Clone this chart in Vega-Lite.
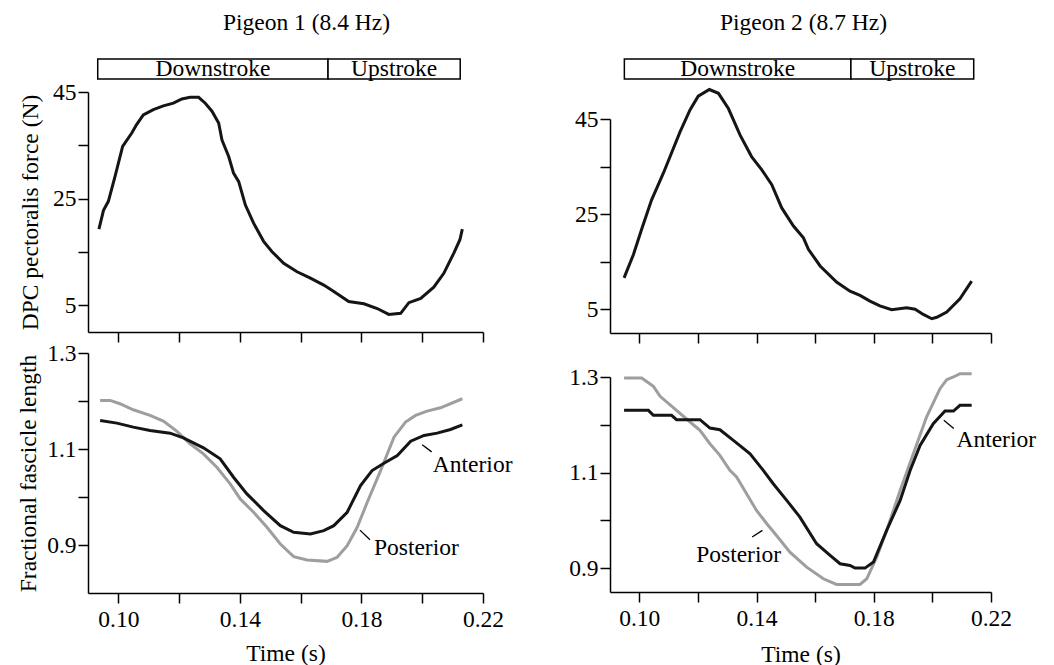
{
  "$schema": "https://vega.github.io/schema/vega-lite/v6.json",
  "padding": {"left": 16, "top": 10, "right": 5, "bottom": 5},
  "background": "white",
  "config": {
    "view": {"stroke": null},
    "font": "Liberation Serif",
    "axis": {
      "domainColor": "black", "domainWidth": 1.5, "tickColor": "black", "tickWidth": 1.5, "tickSize": 10,
      "labelColor": "black", "labelFont": "Liberation Serif", "labelFontSize": 23.5, "labelPadding": 2,
      "labelFlush": false, "labelOverlap": false, "labelBound": false,
      "titleFont": "Liberation Serif", "titleFontSize": 23.5, "titleFontWeight": "normal", "titleColor": "black",
      "grid": false
    },
    "title": {"font": "Liberation Serif", "fontSize": 23.5, "fontWeight": "normal", "color": "black", "anchor": "middle"}
  },
  "datasets": {
    "phases": [
      {"p": 1, "phase": "Downstroke", "start": 0.0932, "end": 0.169},
      {"p": 1, "phase": "Upstroke", "start": 0.169, "end": 0.2125},
      {"p": 2, "phase": "Downstroke", "start": 0.0949, "end": 0.1722},
      {"p": 2, "phase": "Upstroke", "start": 0.1722, "end": 0.2141}
    ],
    "force": [
      {"p":1,"t":0.0936,"f":19.3},{"p":1,"t":0.0951,"f":22.8},{"p":1,"t":0.0967,"f":24.5},{"p":1,"t":0.0989,"f":29.2},
      {"p":1,"t":0.1014,"f":34.8},{"p":1,"t":0.1044,"f":37.3},{"p":1,"t":0.1060,"f":38.9},{"p":1,"t":0.1082,"f":40.7},
      {"p":1,"t":0.1115,"f":41.7},{"p":1,"t":0.1148,"f":42.4},{"p":1,"t":0.1181,"f":42.9},{"p":1,"t":0.1209,"f":43.7},
      {"p":1,"t":0.1236,"f":44.0},{"p":1,"t":0.1264,"f":44.0},{"p":1,"t":0.1286,"f":42.9},{"p":1,"t":0.1308,"f":41.4},
      {"p":1,"t":0.1330,"f":39.2},{"p":1,"t":0.1341,"f":36.0},{"p":1,"t":0.1363,"f":32.9},{"p":1,"t":0.1379,"f":29.8},
      {"p":1,"t":0.1396,"f":28.2},{"p":1,"t":0.1418,"f":23.8},{"p":1,"t":0.1445,"f":20.4},{"p":1,"t":0.1478,"f":17.0},
      {"p":1,"t":0.1505,"f":15.1},{"p":1,"t":0.1544,"f":12.9},{"p":1,"t":0.1588,"f":11.3},{"p":1,"t":0.1632,"f":10.1},
      {"p":1,"t":0.1676,"f":8.8},{"p":1,"t":0.1709,"f":7.6},{"p":1,"t":0.1758,"f":5.7},{"p":1,"t":0.1808,"f":5.3},
      {"p":1,"t":0.1852,"f":4.4},{"p":1,"t":0.1890,"f":3.3},{"p":1,"t":0.1929,"f":3.5},{"p":1,"t":0.1956,"f":5.5},
      {"p":1,"t":0.1995,"f":6.3},{"p":1,"t":0.2038,"f":8.4},{"p":1,"t":0.2071,"f":11.0},{"p":1,"t":0.2104,"f":14.8},
      {"p":1,"t":0.2124,"f":17.3},{"p":1,"t":0.2132,"f":19.3},
      {"p":2,"t":0.0948,"f":11.6},{"p":2,"t":0.0980,"f":16.5},{"p":2,"t":0.1008,"f":21.8},{"p":2,"t":0.1042,"f":28.0},
      {"p":2,"t":0.1082,"f":33.6},{"p":2,"t":0.1139,"f":42.3},{"p":2,"t":0.1173,"f":46.9},{"p":2,"t":0.1201,"f":49.8},
      {"p":2,"t":0.1239,"f":51.2},{"p":2,"t":0.1270,"f":50.4},{"p":2,"t":0.1304,"f":47.2},{"p":2,"t":0.1344,"f":41.6},
      {"p":2,"t":0.1383,"f":37.1},{"p":2,"t":0.1418,"f":34.3},{"p":2,"t":0.1452,"f":31.2},{"p":2,"t":0.1486,"f":26.3},
      {"p":2,"t":0.1526,"f":22.5},{"p":2,"t":0.1560,"f":20.0},{"p":2,"t":0.1577,"f":17.6},{"p":2,"t":0.1617,"f":14.1},
      {"p":2,"t":0.1673,"f":10.7},{"p":2,"t":0.1719,"f":8.8},{"p":2,"t":0.1753,"f":7.9},{"p":2,"t":0.1787,"f":6.7},
      {"p":2,"t":0.1821,"f":5.7},{"p":2,"t":0.1861,"f":4.9},{"p":2,"t":0.1912,"f":5.3},{"p":2,"t":0.1941,"f":5.0},
      {"p":2,"t":0.1969,"f":3.9},{"p":2,"t":0.1998,"f":3.0},{"p":2,"t":0.2015,"f":3.3},{"p":2,"t":0.2049,"f":4.4},
      {"p":2,"t":0.2094,"f":7.2},{"p":2,"t":0.2134,"f":10.9}
    ],
    "len": [
      {"p":1,"m":"Anterior","t":0.0940,"L":1.1595},{"p":1,"m":"Anterior","t":0.0995,"L":1.1539},{"p":1,"m":"Anterior","t":0.1049,"L":1.1456},
      {"p":1,"m":"Anterior","t":0.1104,"L":1.1386},{"p":1,"m":"Anterior","t":0.1170,"L":1.1330},{"p":1,"m":"Anterior","t":0.1214,"L":1.1233},
      {"p":1,"m":"Anterior","t":0.1280,"L":1.1024},{"p":1,"m":"Anterior","t":0.1335,"L":1.0795},{"p":1,"m":"Anterior","t":0.1379,"L":1.0412},
      {"p":1,"m":"Anterior","t":0.1423,"L":1.0064},{"p":1,"m":"Anterior","t":0.1478,"L":0.9717},{"p":1,"m":"Anterior","t":0.1533,"L":0.9403},
      {"p":1,"m":"Anterior","t":0.1577,"L":0.9264},{"p":1,"m":"Anterior","t":0.1632,"L":0.9230},{"p":1,"m":"Anterior","t":0.1676,"L":0.9299},
      {"p":1,"m":"Anterior","t":0.1709,"L":0.9403},{"p":1,"m":"Anterior","t":0.1753,"L":0.9682},{"p":1,"m":"Anterior","t":0.1797,"L":1.0238},
      {"p":1,"m":"Anterior","t":0.1835,"L":1.0551},{"p":1,"m":"Anterior","t":0.1874,"L":1.0704},{"p":1,"m":"Anterior","t":0.1918,"L":1.0864},
      {"p":1,"m":"Anterior","t":0.1962,"L":1.1163},{"p":1,"m":"Anterior","t":0.2006,"L":1.1282},{"p":1,"m":"Anterior","t":0.2049,"L":1.1330},
      {"p":1,"m":"Anterior","t":0.2093,"L":1.1407},{"p":1,"m":"Anterior","t":0.2132,"L":1.1504},
      {"p":1,"m":"Posterior","t":0.0940,"L":1.2012},{"p":1,"m":"Posterior","t":0.0973,"L":1.2012},{"p":1,"m":"Posterior","t":0.1005,"L":1.1943},
      {"p":1,"m":"Posterior","t":0.1049,"L":1.1817},{"p":1,"m":"Posterior","t":0.1104,"L":1.1699},{"p":1,"m":"Posterior","t":0.1148,"L":1.1581},
      {"p":1,"m":"Posterior","t":0.1192,"L":1.1372},{"p":1,"m":"Posterior","t":0.1236,"L":1.1108},{"p":1,"m":"Posterior","t":0.1280,"L":1.0899},
      {"p":1,"m":"Posterior","t":0.1324,"L":1.0621},{"p":1,"m":"Posterior","t":0.1368,"L":1.0273},{"p":1,"m":"Posterior","t":0.1401,"L":0.9960},
      {"p":1,"m":"Posterior","t":0.1445,"L":0.9682},{"p":1,"m":"Posterior","t":0.1489,"L":0.9369},{"p":1,"m":"Posterior","t":0.1533,"L":0.9021},
      {"p":1,"m":"Posterior","t":0.1577,"L":0.8757},{"p":1,"m":"Posterior","t":0.1621,"L":0.8687},{"p":1,"m":"Posterior","t":0.1687,"L":0.8659},
      {"p":1,"m":"Posterior","t":0.1720,"L":0.8743},{"p":1,"m":"Posterior","t":0.1753,"L":0.8986},{"p":1,"m":"Posterior","t":0.1786,"L":0.9369},
      {"p":1,"m":"Posterior","t":0.1819,"L":0.9890},{"p":1,"m":"Posterior","t":0.1863,"L":1.0551},{"p":1,"m":"Posterior","t":0.1907,"L":1.1247},
      {"p":1,"m":"Posterior","t":0.1945,"L":1.1560},{"p":1,"m":"Posterior","t":0.1978,"L":1.1699},{"p":1,"m":"Posterior","t":0.2016,"L":1.1790},
      {"p":1,"m":"Posterior","t":0.2060,"L":1.1859},{"p":1,"m":"Posterior","t":0.2132,"L":1.2047},
      {"p":2,"m":"Anterior","t":0.0948,"L":1.2302},{"p":2,"m":"Anterior","t":0.1031,"L":1.2302},{"p":2,"m":"Anterior","t":0.1048,"L":1.2197},
      {"p":2,"m":"Anterior","t":0.1110,"L":1.2197},{"p":2,"m":"Anterior","t":0.1127,"L":1.2106},{"p":2,"m":"Anterior","t":0.1207,"L":1.2106},
      {"p":2,"m":"Anterior","t":0.1241,"L":1.1932},{"p":2,"m":"Anterior","t":0.1275,"L":1.1897},{"p":2,"m":"Anterior","t":0.1321,"L":1.1674},
      {"p":2,"m":"Anterior","t":0.1378,"L":1.1394},{"p":2,"m":"Anterior","t":0.1423,"L":1.1045},{"p":2,"m":"Anterior","t":0.1457,"L":1.0766},
      {"p":2,"m":"Anterior","t":0.1503,"L":1.0417},{"p":2,"m":"Anterior","t":0.1548,"L":1.0068},{"p":2,"m":"Anterior","t":0.1605,"L":0.9510},
      {"p":2,"m":"Anterior","t":0.1651,"L":0.9265},{"p":2,"m":"Anterior","t":0.1685,"L":0.9091},{"p":2,"m":"Anterior","t":0.1719,"L":0.9056},
      {"p":2,"m":"Anterior","t":0.1736,"L":0.9000},{"p":2,"m":"Anterior","t":0.1770,"L":0.9000},{"p":2,"m":"Anterior","t":0.1799,"L":0.9126},
      {"p":2,"m":"Anterior","t":0.1844,"L":0.9789},{"p":2,"m":"Anterior","t":0.1890,"L":1.0417},{"p":2,"m":"Anterior","t":0.1924,"L":1.1045},
      {"p":2,"m":"Anterior","t":0.1958,"L":1.1569},{"p":2,"m":"Anterior","t":0.2003,"L":1.2023},{"p":2,"m":"Anterior","t":0.2043,"L":1.2288},
      {"p":2,"m":"Anterior","t":0.2072,"L":1.2288},{"p":2,"m":"Anterior","t":0.2094,"L":1.2407},{"p":2,"m":"Anterior","t":0.2134,"L":1.2407},
      {"p":2,"m":"Posterior","t":0.0948,"L":1.2979},{"p":2,"m":"Posterior","t":0.1008,"L":1.2979},{"p":2,"m":"Posterior","t":0.1048,"L":1.2805},
      {"p":2,"m":"Posterior","t":0.1071,"L":1.2595},{"p":2,"m":"Posterior","t":0.1127,"L":1.2302},{"p":2,"m":"Posterior","t":0.1173,"L":1.2058},
      {"p":2,"m":"Posterior","t":0.1207,"L":1.1883},{"p":2,"m":"Posterior","t":0.1241,"L":1.1604},{"p":2,"m":"Posterior","t":0.1275,"L":1.1360},
      {"p":2,"m":"Posterior","t":0.1309,"L":1.1045},{"p":2,"m":"Posterior","t":0.1332,"L":1.0906},{"p":2,"m":"Posterior","t":0.1366,"L":1.0557},
      {"p":2,"m":"Posterior","t":0.1400,"L":1.0208},{"p":2,"m":"Posterior","t":0.1435,"L":0.9928},{"p":2,"m":"Posterior","t":0.1480,"L":0.9593},
      {"p":2,"m":"Posterior","t":0.1514,"L":0.9335},{"p":2,"m":"Posterior","t":0.1571,"L":0.9021},{"p":2,"m":"Posterior","t":0.1628,"L":0.8777},
      {"p":2,"m":"Posterior","t":0.1673,"L":0.8658},{"p":2,"m":"Posterior","t":0.1753,"L":0.8658},{"p":2,"m":"Posterior","t":0.1776,"L":0.8777},
      {"p":2,"m":"Posterior","t":0.1810,"L":0.9230},{"p":2,"m":"Posterior","t":0.1844,"L":0.9789},{"p":2,"m":"Posterior","t":0.1890,"L":1.0627},
      {"p":2,"m":"Posterior","t":0.1935,"L":1.1394},{"p":2,"m":"Posterior","t":0.1980,"L":1.2162},{"p":2,"m":"Posterior","t":0.2026,"L":1.2756},
      {"p":2,"m":"Posterior","t":0.2049,"L":1.2944},{"p":2,"m":"Posterior","t":0.2072,"L":1.3000},{"p":2,"m":"Posterior","t":0.2094,"L":1.3070},
      {"p":2,"m":"Posterior","t":0.2134,"L":1.3070}
    ],
    "labels": [
      {"p": 1, "text": "Anterior", "t": 0.2035, "L": 1.066},
      {"p": 1, "text": "Posterior", "t": 0.1841, "L": 0.893},
      {"p": 2, "text": "Anterior", "t": 0.2082, "L": 1.1674},
      {"p": 2, "text": "Posterior", "t": 0.1194, "L": 0.9266}
    ],
    "leaders": [
      {"p": 1, "t1": 0.2000, "L1": 1.109, "t2": 0.2031, "L2": 1.094},
      {"p": 1, "t1": 0.1795, "L1": 0.931, "t2": 0.1828, "L2": 0.911},
      {"p": 2, "t1": 0.2039, "L1": 1.2093, "t2": 0.2073, "L2": 1.192},
      {"p": 2, "t1": 0.1385, "L1": 0.965, "t2": 0.1420, "L2": 0.979}
    ]
  },
  "spacing": 55,
  "hconcat": [
    {
      "bounds": "flush",
      "spacing": 13,
      "vconcat": [
        {
          "width": 395, "height": 20,
          "title": {"text": "Pigeon 1 (8.4 Hz)", "dx": 21, "offset": 23},
          "data": {"name": "phases"},
          "transform": [{"filter": "datum.p == 1"}, {"calculate": "(datum.start + datum.end) / 2", "as": "mid"}],
          "layer": [
            {"mark": {"type": "rect", "fill": "white", "stroke": "black", "strokeWidth": 1.5},
             "encoding": {"x": {"field": "start", "type": "quantitative", "scale": {"domain": [0.09, 0.22], "nice": false, "zero": false}, "axis": null}, "x2": {"field": "end"}}},
            {"mark": {"type": "text", "fontSize": 23.5, "font": "Liberation Serif", "baseline": "middle", "color": "black"},
             "encoding": {"x": {"field": "mid", "type": "quantitative"}, "text": {"field": "phase"}}}
          ]
        },
        {
          "bounds": "flush",
          "spacing": 21,
          "vconcat": [
            {
              "width": 395, "height": 240,
              "data": {"name": "force"},
              "transform": [{"filter": "datum.p == 1"}],
              "mark": {"type": "line", "color": "#151515", "strokeWidth": 3},
              "encoding": {
                "x": {"field": "t", "type": "quantitative", "scale": {"domain": [0.09, 0.22], "nice": false, "zero": false},
                      "axis": {"values": [0.10, 0.12, 0.14, 0.16, 0.18, 0.20, 0.22], "labels": false, "title": null}},
                "y": {"field": "f", "type": "quantitative", "scale": {"domain": [0, 45], "nice": false},
                      "axis": {"values": [5, 15, 25, 35, 45], "labelExpr": "datum.value == 15 || datum.value == 35 ? '' : datum.label", "title": "DPC pectoralis force (N)", "titlePadding": 10}}
              }
            },
            {
              "width": 395, "height": 240,
              "layer": [
                {
                  "data": {"name": "len"},
                  "transform": [{"filter": "datum.p == 1 && datum.m == 'Posterior'"}],
                  "mark": {"type": "line", "color": "#9e9e9e", "strokeWidth": 3},
                  "encoding": {
                    "x": {"field": "t", "type": "quantitative", "scale": {"domain": [0.09, 0.22], "nice": false, "zero": false},
                          "axis": {"values": [0.10, 0.12, 0.14, 0.16, 0.18, 0.20, 0.22], "format": ".2f", "labelExpr": "indexof(['0.10','0.14','0.18','0.22'], datum.label) >= 0 ? datum.label : ''", "title": "Time (s)", "titlePadding": 11, "labelPadding": 4}},
                    "y": {"field": "L", "type": "quantitative", "scale": {"domain": [0.8, 1.3], "nice": false, "zero": false},
                          "axis": {"values": [0.9, 1.0, 1.1, 1.2, 1.3], "format": ".1f", "labelExpr": "indexof(['0.9','1.1','1.3'], datum.label) >= 0 ? datum.label : ''", "title": "Fractional fascicle length", "titlePadding": 6}}
                  }
                },
                {
                  "data": {"name": "len"},
                  "transform": [{"filter": "datum.p == 1 && datum.m == 'Anterior'"}],
                  "mark": {"type": "line", "color": "#151515", "strokeWidth": 3},
                  "encoding": {"x": {"field": "t", "type": "quantitative"}, "y": {"field": "L", "type": "quantitative"}}
                },
                {
                  "data": {"name": "leaders"},
                  "transform": [{"filter": "datum.p == 1"}],
                  "mark": {"type": "rule", "color": "black", "strokeWidth": 1.3},
                  "encoding": {"x": {"field": "t1", "type": "quantitative"}, "x2": {"field": "t2"}, "y": {"field": "L1", "type": "quantitative"}, "y2": {"field": "L2"}}
                },
                {
                  "data": {"name": "labels"},
                  "transform": [{"filter": "datum.p == 1"}],
                  "mark": {"type": "text", "align": "left", "baseline": "middle", "fontSize": 23.5, "font": "Liberation Serif", "color": "black"},
                  "encoding": {"x": {"field": "t", "type": "quantitative"}, "y": {"field": "L", "type": "quantitative"}, "text": {"field": "text"}}
                }
              ]
            }
          ]
        }
      ]
    },
    {
      "bounds": "flush",
      "spacing": 40,
      "vconcat": [
        {
          "width": 381, "height": 20,
          "title": {"text": "Pigeon 2  (8.7 Hz)", "dx": 3, "offset": 23},
          "data": {"name": "phases"},
          "transform": [{"filter": "datum.p == 2"}, {"calculate": "(datum.start + datum.end) / 2", "as": "mid"}],
          "layer": [
            {"mark": {"type": "rect", "fill": "white", "stroke": "black", "strokeWidth": 1.5},
             "encoding": {"x": {"field": "start", "type": "quantitative", "scale": {"domain": [0.09, 0.22], "nice": false, "zero": false}, "axis": null}, "x2": {"field": "end"}}},
            {"mark": {"type": "text", "fontSize": 23.5, "font": "Liberation Serif", "baseline": "middle", "color": "black"},
             "encoding": {"x": {"field": "mid", "type": "quantitative"}, "text": {"field": "phase"}}}
          ]
        },
        {
          "bounds": "flush",
          "spacing": 44,
          "vconcat": [
            {
              "width": 381, "height": 214,
              "data": {"name": "force"},
              "transform": [{"filter": "datum.p == 2"}],
              "mark": {"type": "line", "color": "#151515", "strokeWidth": 3},
              "encoding": {
                "x": {"field": "t", "type": "quantitative", "scale": {"domain": [0.09, 0.22], "nice": false, "zero": false},
                      "axis": {"values": [0.10, 0.12, 0.14, 0.16, 0.18, 0.20, 0.22], "labels": false, "title": null}},
                "y": {"field": "f", "type": "quantitative", "scale": {"domain": [0, 45], "nice": false},
                      "axis": {"values": [5, 15, 25, 35, 45], "labelExpr": "datum.value == 15 || datum.value == 35 ? '' : datum.label", "title": null}}
              }
            },
            {
              "width": 381, "height": 215,
              "layer": [
                {
                  "data": {"name": "len"},
                  "transform": [{"filter": "datum.p == 2 && datum.m == 'Posterior'"}],
                  "mark": {"type": "line", "color": "#9e9e9e", "strokeWidth": 3},
                  "encoding": {
                    "x": {"field": "t", "type": "quantitative", "scale": {"domain": [0.09, 0.22], "nice": false, "zero": false},
                          "axis": {"values": [0.10, 0.12, 0.14, 0.16, 0.18, 0.20, 0.22], "format": ".2f", "labelExpr": "indexof(['0.10','0.14','0.18','0.22'], datum.label) >= 0 ? datum.label : ''", "title": "Time (s)", "titlePadding": 13, "labelPadding": 4}},
                    "y": {"field": "L", "type": "quantitative", "scale": {"domain": [0.85, 1.3], "nice": false, "zero": false},
                          "axis": {"values": [0.9, 1.0, 1.1, 1.2, 1.3], "format": ".1f", "labelExpr": "indexof(['0.9','1.1','1.3'], datum.label) >= 0 ? datum.label : ''", "title": null}}
                  }
                },
                {
                  "data": {"name": "len"},
                  "transform": [{"filter": "datum.p == 2 && datum.m == 'Anterior'"}],
                  "mark": {"type": "line", "color": "#151515", "strokeWidth": 3},
                  "encoding": {"x": {"field": "t", "type": "quantitative"}, "y": {"field": "L", "type": "quantitative"}}
                },
                {
                  "data": {"name": "leaders"},
                  "transform": [{"filter": "datum.p == 2"}],
                  "mark": {"type": "rule", "color": "black", "strokeWidth": 1.3},
                  "encoding": {"x": {"field": "t1", "type": "quantitative"}, "x2": {"field": "t2"}, "y": {"field": "L1", "type": "quantitative"}, "y2": {"field": "L2"}}
                },
                {
                  "data": {"name": "labels"},
                  "transform": [{"filter": "datum.p == 2"}],
                  "mark": {"type": "text", "align": "left", "baseline": "middle", "fontSize": 23.5, "font": "Liberation Serif", "color": "black"},
                  "encoding": {"x": {"field": "t", "type": "quantitative"}, "y": {"field": "L", "type": "quantitative"}, "text": {"field": "text"}}
                }
              ]
            }
          ]
        }
      ]
    }
  ]
}
